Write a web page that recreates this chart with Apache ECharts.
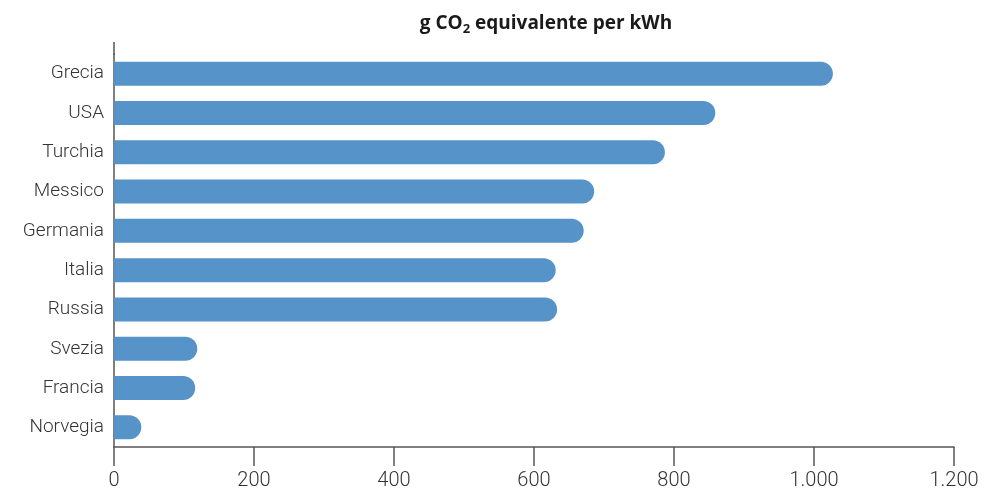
<!DOCTYPE html>
<html>
<head>
<meta charset="utf-8">
<script src="https://cdn.jsdelivr.net/npm/echarts@6/dist/echarts.min.js"></script>
<style>
  html, body { margin: 0; padding: 0; background: #fff; }
  #chart { width: 1005px; height: 493px; }
</style>
</head>
<body>
<div id="chart"></div>
<script>
// Emissioni per kWh prodotto, per paese
const countries = ['Grecia', 'USA', 'Turchia', 'Messico', 'Germania', 'Italia', 'Russia', 'Svezia', 'Francia', 'Norvegia'];
const gramsPerKWh = [1027, 859, 787, 686, 671, 631, 633, 119, 116, 39];
const xTicks = [0, 200, 400, 600, 800, 1000, 1200];

const FONT = 'Roboto, "Noto Sans", sans-serif';
const AXIS_COLOR = '#555555';

const chart = echarts.init(document.getElementById('chart'));

chart.setOption({
  animation: false,
  title: {
    text: '{a|g CO}{s|2}{a| equivalente per kWh}',
    left: 541,
    textAlign: 'center',
    top: 7,
    textStyle: {
      rich: {
        a: { fontFamily: '"Open Sans", sans-serif', fontWeight: 'bold', fontSize: 19, color: '#1a1a1a' },
        s: { fontFamily: '"Open Sans", sans-serif', fontWeight: 'bold', fontSize: 13, color: '#1a1a1a', padding: [11, 0, 0, 0] }
      }
    }
  },
  grid: { left: 114, right: 51, top: 54, bottom: 46, containLabel: false },
  xAxis: {
    type: 'value',
    min: 0,
    max: 1200,
    interval: 200,
    axisLine: { show: true, lineStyle: { color: AXIS_COLOR, width: 1.5 } },
    axisTick: { show: true, length: 19, lineStyle: { color: AXIS_COLOR, width: 1.5 } },
    splitLine: { show: false },
    axisLabel: {
      margin: 24,
      fontFamily: FONT,
      fontWeight: 300,
      fontSize: 20,
      color: '#333333',
      formatter: function (v) {
        return xTicks.indexOf(v) >= 0 ? v.toLocaleString('it-IT').replace(/\u00a0|,/g, '.') : '';
      }
    }
  },
  yAxis: {
    type: 'category',
    data: countries,
    inverse: true,
    axisLine: { show: true, lineStyle: { color: AXIS_COLOR, width: 1.5 } },
    axisTick: { show: false },
    axisLabel: {
      margin: 10,
      fontFamily: FONT,
      fontWeight: 300,
      fontSize: 19,
      color: '#333333'
    }
  },
  series: [{
    type: 'bar',
    data: gramsPerKWh,
    barWidth: 24,
    itemStyle: { color: '#5593c9', borderRadius: [0, 12, 12, 0] }
  }],
  graphic: [{
    // prolungamento dell'asse verticale sopra l'area del grafico
    type: 'line',
    shape: { x1: 114, y1: 42, x2: 114, y2: 55 },
    style: { stroke: AXIS_COLOR, lineWidth: 1.5 }
  }]
});
</script>
</body>
</html>
